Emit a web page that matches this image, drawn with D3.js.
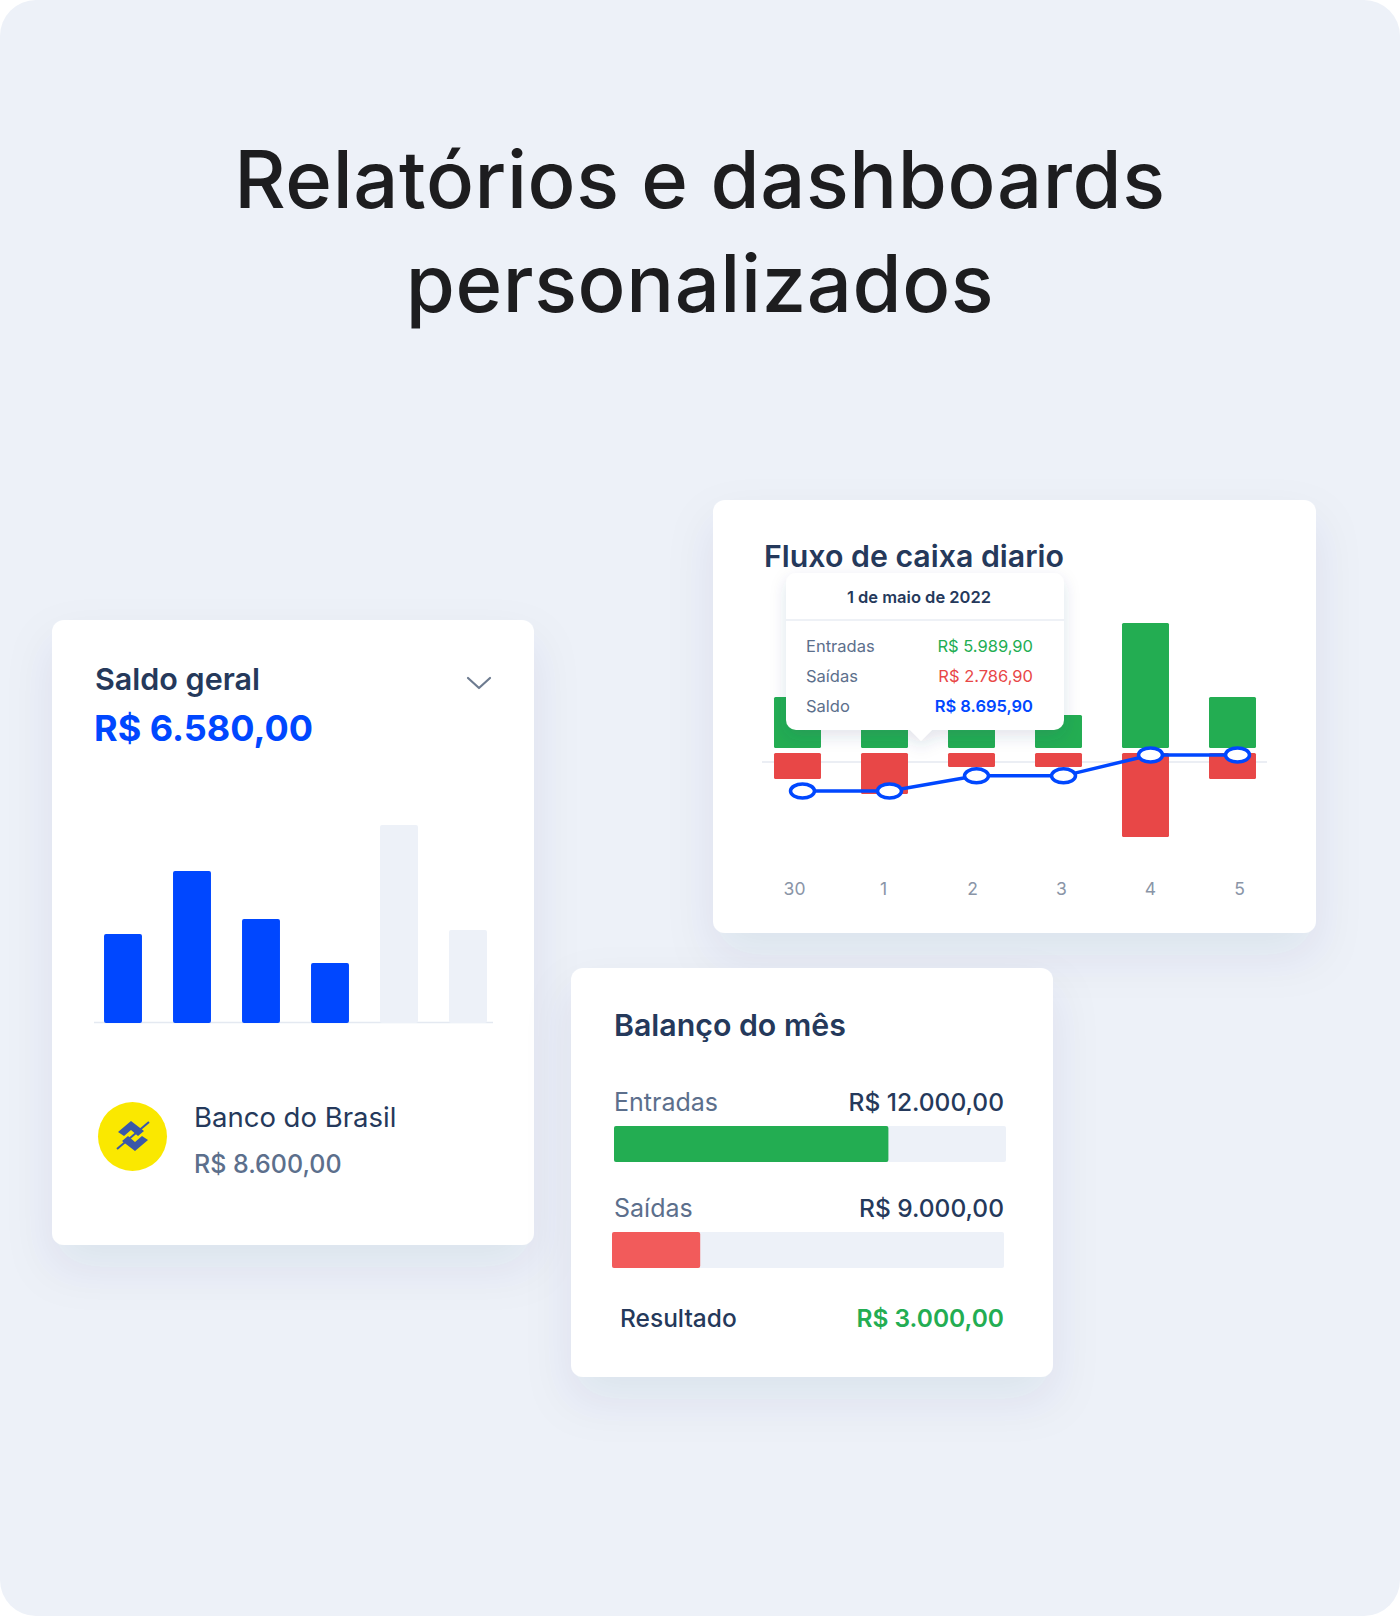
<!DOCTYPE html>
<html><head><meta charset="utf-8">
<script src="https://cdn.jsdelivr.net/npm/d3@7"></script>
<style>
html,body{margin:0;padding:0;background:#fff;}
svg{display:block;}
text{font-family:Inter,"Noto Sans",sans-serif;}
</style></head>
<body>
<svg id="c" width="1400" height="1616"></svg>
<script>
// ---------- DATA ----------
const titleLines = ["Relatórios e dashboards", "personalizados"];

// Saldo geral
const saldoTitle = "Saldo geral";
const saldoTotal = "R$ 6.580,00";
const saldoBarsValues = [4470, 7660, 5230, 3000, 10000, 4670];
const saldoBarsProjected = [false, false, false, false, true, true];
const bankName = "Banco do Brasil";
const bankBalance = "R$ 8.600,00";

// Fluxo de caixa diario
const fluxoTitle = "Fluxo de caixa diario";
const fluxoDays = ["30", "1", "2", "3", "4", "5"];
const fluxoEntradas = [3470, 5989.90, 3740, 2240, 8500, 3470];
const fluxoSaidas = [1770, 2786.90, 950, 950, 5710, 1770];
const fluxoSaldo = [8690, 8695.90, 9750, 9750, 11200, 11200];
const tooltipDate = "1 de maio de 2022";
const tooltipLabels = ["Entradas", "Saídas", "Saldo"];
const tooltipValues = ["R$ 5.989,90", "R$ 2.786,90", "R$ 8.695,90"];

// Balanço do mês
const balancoTitle = "Balanço do mês";
const balancoLabels = ["Entradas", "Saídas"];
const balancoValues = ["R$ 12.000,00", "R$ 9.000,00"];
const balancoProgress = [70, 22.5];
const resultadoLabel = "Resultado";
const resultadoValue = "R$ 3.000,00";

// ---------- DRAW ----------
const svg = d3.select("#c");
const C = {navy:"#25395b", blue:"#0047ff", green:"#23ad52", red:"#e84747", gray:"#5c6f8c", light:"#edf1f8"};

const defs = svg.append("defs");
const f = defs.append("filter").attr("id","sh").attr("x","-30%").attr("y","-30%").attr("width","160%").attr("height","170%");
f.append("feDropShadow").attr("dx",0).attr("dy",22).attr("stdDeviation",24).attr("flood-color","#2a3f70").attr("flood-opacity",0.08);
const f2 = defs.append("filter").attr("id","sh2").attr("x","-30%").attr("y","-30%").attr("width","160%").attr("height","170%");
f2.append("feDropShadow").attr("dx",0).attr("dy",6).attr("stdDeviation",8).attr("flood-color","#2a3f70").attr("flood-opacity",0.14);

// page background
svg.append("rect").attr("x",0).attr("y",0).attr("width",1400).attr("height",1616).attr("rx",36).attr("fill","#edf1f8");

// title
svg.selectAll("text.title").data(titleLines).join("text").attr("class","title")
  .attr("x",700).attr("y",(d,i)=>208+i*104).attr("text-anchor","middle")
  .attr("font-size",79.5).attr("font-weight",500).attr("fill","#1d1d1f").attr("letter-spacing",0.6)
  .text(d=>d);

// ---- Card 1: Saldo geral ----
svg.append("rect").attr("x",52).attr("y",620).attr("width",482).attr("height",625).attr("rx",12).attr("fill","#fff").attr("filter","url(#sh)");
svg.append("text").attr("x",95).attr("y",690).attr("font-size",30.5).attr("font-weight",600).attr("fill",C.navy).text(saldoTitle);
svg.append("text").attr("x",94).attr("y",741).attr("font-size",36).attr("font-weight",700).attr("fill",C.blue).text(saldoTotal);
svg.append("path").attr("d","M468,678 L479,688 L490,678").attr("fill","none").attr("stroke","#6d7b90").attr("stroke-width",2.2).attr("stroke-linecap","round").attr("stroke-linejoin","round");

const x1 = d3.scaleBand().domain(d3.range(saldoBarsValues.length)).range([88.5,502.5]).paddingInner(0.45).paddingOuter(0.225);
const y1 = d3.scaleLinear().domain([0,10000]).range([1022,825]);
svg.append("line").attr("x1",94).attr("x2",493).attr("y1",1022.5).attr("y2",1022.5).attr("stroke","#e4e9f1").attr("stroke-width",1.5);
svg.selectAll("rect.sb").data(saldoBarsValues).join("rect").attr("class","sb")
  .attr("x",(d,i)=>x1(i)).attr("width",x1.bandwidth())
  .attr("y",d=>y1(d)).attr("height",d=>y1(0)-y1(d)+1).attr("rx",2)
  .attr("fill",(d,i)=>saldoBarsProjected[i]?"#edf1f8":"#0047ff");

// bank
svg.append("circle").attr("cx",132.5).attr("cy",1136.5).attr("r",34.5).attr("fill","#fae800");
const logo = svg.append("g").attr("transform","translate(133,1136)").attr("fill","#3a58a8");
logo.append("path").attr("d","M-15,-4 L-2,-15 L11,-5 L5,0 L-2,-6 L-9,0 Z");
logo.append("path").attr("d","M15,4 L2,15 L-11,5 L-5,0 L2,6 L9,0 Z");
logo.append("path").attr("d","M-16,13 L16,-14").attr("stroke","#3a58a8").attr("stroke-width",2);
svg.append("text").attr("x",194).attr("y",1127).attr("font-size",27.5).attr("font-weight",400).attr("fill",C.navy).text(bankName);
svg.append("text").attr("x",194).attr("y",1173).attr("font-size",25).attr("font-weight",500).attr("fill",C.gray).text(bankBalance);

// ---- Card 2: Fluxo ----
svg.append("rect").attr("x",713).attr("y",500).attr("width",603).attr("height",433).attr("rx",12).attr("fill","#fff").attr("filter","url(#sh)");
svg.append("text").attr("x",764).attr("y",567).attr("font-size",30.3).attr("font-weight",600).attr("fill",C.navy).text(fluxoTitle);

const x2 = d3.scaleBand().domain(fluxoDays).range([754,1276]).paddingInner(0.46).paddingOuter(0.23);
const xLab = d3.scalePoint().domain(fluxoDays).range([794,1239]);
const h2 = d3.scaleLinear().domain([0,8500]).range([0,125]);
const gBase = 748, rBase = 753;
const ySaldo = d3.scaleLinear().domain([8000,12000]).range([801,743.5]);

svg.append("line").attr("x1",762).attr("x2",1267).attr("y1",762).attr("y2",762).attr("stroke","#e4e9f0").attr("stroke-width",1.5);
svg.selectAll("rect.ent").data(fluxoEntradas).join("rect").attr("class","ent")
  .attr("x",(d,i)=>x2(fluxoDays[i])).attr("width",x2.bandwidth())
  .attr("y",d=>gBase-h2(d)).attr("height",d=>h2(d)).attr("rx",1.5).attr("fill",C.green);
svg.selectAll("rect.sai").data(fluxoSaidas).join("rect").attr("class","sai")
  .attr("x",(d,i)=>x2(fluxoDays[i])).attr("width",x2.bandwidth())
  .attr("y",rBase).attr("height",d=>h2(d)).attr("rx",1.5).attr("fill",C.red);

const lx = (d,i)=>x2(fluxoDays[i])+x2.bandwidth()/2+5;
svg.append("path").datum(fluxoSaldo)
  .attr("d",d3.line().x(lx).y(d=>ySaldo(d)))
  .attr("fill","none").attr("stroke",C.blue).attr("stroke-width",3.5);
svg.selectAll("ellipse.pt").data(fluxoSaldo).join("ellipse").attr("class","pt")
  .attr("cx",lx).attr("cy",d=>ySaldo(d)).attr("rx",12).attr("ry",7)
  .attr("fill","#fff").attr("stroke",C.blue).attr("stroke-width",3.5);

const xAxis = svg.append("g").attr("transform","translate(0,895)")
  .call(d3.axisBottom(xLab).tickSize(0).tickPadding(0));
xAxis.select(".domain").remove();
xAxis.selectAll("text").attr("font-size",17.5).attr("fill","#8a95a7").attr("font-family","Inter,sans-serif").attr("dy",0);

// tooltip
const tt = svg.append("g").attr("filter","url(#sh2)");
tt.append("rect").attr("x",786).attr("y",573).attr("width",278).attr("height",157).attr("rx",10).attr("fill","#fff");
tt.append("path").attr("d","M909,729 L921,741 L933,729 Z").attr("fill","#fff");
svg.append("line").attr("x1",786).attr("x2",1064).attr("y1",620).attr("y2",620).attr("stroke","#e9edf3").attr("stroke-width",1.5);
svg.append("text").attr("x",919).attr("y",603).attr("text-anchor","middle").attr("font-size",16.5).attr("font-weight",600).attr("fill",C.navy).text(tooltipDate);
const ttColors = [C.green, C.red, C.blue];
svg.selectAll("text.ttl").data(tooltipLabels).join("text").attr("class","ttl")
  .attr("x",806).attr("y",(d,i)=>652+i*30).attr("font-size",16.5).attr("fill",C.gray).text(d=>d);
svg.selectAll("text.ttv").data(tooltipValues).join("text").attr("class","ttv")
  .attr("x",1033).attr("y",(d,i)=>652+i*30).attr("text-anchor","end").attr("font-size",16.5)
  .attr("font-weight",(d,i)=>i==2?600:400).attr("fill",(d,i)=>ttColors[i]).text(d=>d);

// ---- Card 3: Balanço ----
svg.append("rect").attr("x",571).attr("y",968).attr("width",482).attr("height",409).attr("rx",12).attr("fill","#fff").attr("filter","url(#sh)");
svg.append("text").attr("x",614).attr("y",1036).attr("font-size",30.3).attr("font-weight",600).attr("fill",C.navy).text(balancoTitle);
const pw = d3.scaleLinear().domain([0,100]).range([0,392]);
const rowsY = [1111, 1217];
const trackX = [614, 612];
const fillC = [C.green, "#f25b5b"];
balancoLabels.forEach((lab,i)=>{
  svg.append("text").attr("x",614).attr("y",rowsY[i]).attr("font-size",25).attr("fill",C.gray).text(lab);
  svg.append("text").attr("x",1004).attr("y",rowsY[i]).attr("text-anchor","end").attr("font-size",24.5).attr("font-weight",500).attr("fill",C.navy).text(balancoValues[i]);
  svg.append("rect").attr("x",trackX[i]).attr("y",rowsY[i]+15).attr("width",pw(100)).attr("height",36).attr("rx",2).attr("fill","#edf1f8");
  svg.append("rect").attr("x",trackX[i]).attr("y",rowsY[i]+15).attr("width",pw(balancoProgress[i])).attr("height",36).attr("rx",2).attr("fill",fillC[i]);
});
svg.append("text").attr("x",620).attr("y",1327).attr("font-size",24.5).attr("font-weight",500).attr("fill",C.navy).text(resultadoLabel);
svg.append("text").attr("x",1004).attr("y",1327).attr("text-anchor","end").attr("font-size",24.5).attr("font-weight",600).attr("fill",C.green).text(resultadoValue);
</script>
</body></html>
